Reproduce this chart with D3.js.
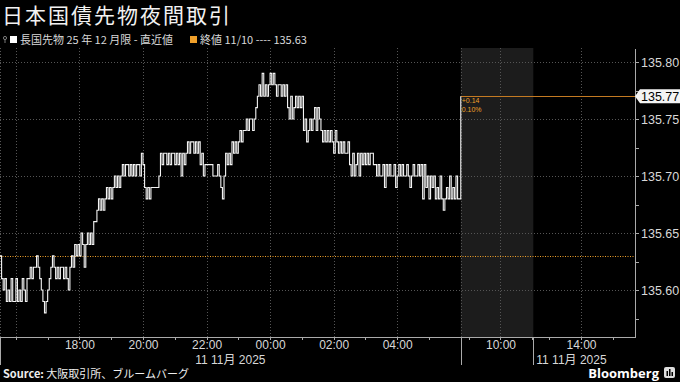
<!DOCTYPE html>
<html>
<head>
<meta charset="utf-8">
<script src="https://cdn.jsdelivr.net/npm/d3@7"></script>
<style>
body { margin: 0; background: #000; }
svg { display: block; font-family: "Liberation Sans", "Noto Sans CJK JP", sans-serif; }
.axis path, .axis line { stroke: #aaa; shape-rendering: crispEdges; }
.axis text { fill: #d8d8d8; font-size: 12px; font-family: "Liberation Sans", "Noto Sans CJK JP", sans-serif; }
.grid { stroke: #555; stroke-dasharray: 1,2; shape-rendering: crispEdges; }
</style>
</head>
<body>
<svg id="chart" width="680" height="382"></svg>
<script>
// 長国先物 25年12月限, night session, 3 minute steps from 15:30 on 11/10
var nightStart = '2025-11-10T15:30';
var nightPrices = [
  135.63,135.61,135.60,135.61,135.59,135.60,135.59,135.61,135.59,135.59,
  135.61,135.59,135.60,135.59,135.61,135.60,135.59,135.61,135.61,135.62,
  135.61,135.62,135.62,135.63,135.62,135.61,135.60,135.59,135.58,135.59,
  135.60,135.61,135.62,135.63,135.62,135.61,135.62,135.61,135.62,135.62,
  135.61,135.62,135.61,135.60,135.62,135.63,135.62,135.64,135.63,135.64,
  135.63,135.65,135.64,135.62,135.64,135.65,135.64,135.65,135.64,135.66,
  135.66,135.67,135.68,135.67,135.68,135.67,135.68,135.69,135.68,135.69,
  135.68,135.69,135.70,135.69,135.70,135.69,135.70,135.71,135.70,135.71,
  135.71,135.70,135.71,135.70,135.71,135.70,135.71,135.71,135.70,135.72,
  135.71,135.69,135.68,135.69,135.68,135.69,135.69,135.69,135.69,135.69,
  135.70,135.72,135.71,135.72,135.72,135.71,135.72,135.71,135.72,135.72,
  135.71,135.72,135.71,135.72,135.70,135.72,135.71,135.72,135.73,135.72,
  135.73,135.73,135.72,135.73,135.72,135.73,135.71,135.72,135.70,135.71,
  135.71,135.71,135.71,135.71,135.70,135.70,135.70,135.71,135.70,135.69,
  135.68,135.70,135.72,135.71,135.72,135.71,135.73,135.72,135.73,135.72,
  135.73,135.74,135.73,135.74,135.74,135.75,135.74,135.75,135.75,135.74,
  135.75,135.76,135.77,135.78,135.77,135.79,135.77,135.78,135.77,135.78,
  135.79,135.78,135.79,135.78,135.77,135.78,135.78,135.77,135.78,135.77,
  135.78,135.76,135.75,135.77,135.75,135.76,135.77,135.76,135.77,135.76,
  135.77,135.74,135.75,135.73,135.74,135.75,135.74,135.75,135.76,135.74,
  135.76,135.75,135.74,135.73,135.74,135.73,135.74,135.73,135.74,135.73,
  135.72,135.74,135.73,135.72,135.73,135.72,135.73,135.72,135.72,135.73,
  135.71,135.70,135.72,135.70,135.71,135.72,135.70,135.72,135.71,135.72,
  135.71,135.72,135.71,135.72,135.72,135.71,135.71,135.70,135.71,135.70,
  135.70,135.71,135.69,135.71,135.70,135.71,135.70,135.70,135.71,135.69,
  135.70,135.71,135.70,135.71,135.70,135.70,135.71,135.70,135.69,135.70,
  135.71,135.70,135.70,135.71,135.70,135.71,135.68,135.71,135.69,135.70,
  135.68,135.70,135.69,135.70,135.68,135.69,135.68,135.70,135.68,135.67,
  135.68,135.69,135.68,135.70,135.68,135.69,135.68,135.70,135.68
];
// day session so far
var dayTimes = ['2025-11-11T08:45'];
var dayPrices = [135.77];

var prevClose = 135.63;
var lastPrice = 135.77;
var change = '+0.14';
var changePct = '0.10%';

// trading sessions, breaks between them are squeezed out of the axis
var sessions = [
  ['2025-11-10T15:30', '2025-11-11T06:00'],
  ['2025-11-11T08:45', '2025-11-11T11:02'],
  ['2025-11-11T12:30', '2025-11-11T15:42']
];
var shadeSession = ['2025-11-11T08:45', '2025-11-11T11:02'];

var yDomain = [135.5588, 135.8123];
var yTicks = [135.60, 135.65, 135.70, 135.75, 135.80];
var yMinorTicks = [135.575, 135.625, 135.675, 135.725, 135.775];

var xLabelTimes = ['2025-11-10T18:00', '2025-11-10T20:00', '2025-11-10T22:00', '2025-11-11T00:00',
                   '2025-11-11T02:00', '2025-11-11T04:00', '2025-11-11T10:00', '2025-11-11T14:00'];
var gridTimes = ['2025-11-10T15:30', '2025-11-10T16:00', '2025-11-10T18:00', '2025-11-10T20:00',
                 '2025-11-10T22:00', '2025-11-11T00:00', '2025-11-11T02:00', '2025-11-11T04:00',
                 '2025-11-11T08:45', '2025-11-11T10:00', '2025-11-11T14:00'];
var dateLabels = [{text: '11 11月 2025', from: '2025-11-10T15:30', to: '2025-11-11T06:00', anchor: 'middle'},
                  {text: '11 11月 2025', from: '2025-11-11T12:30', to: '2025-11-11T15:42', anchor: 'start'}];

var title = '日本国債先物夜間取引';
var legendSeries = '長国先物 25 年 12 月限 - 直近値';
var legendClose = '終値 11/10 ---- 135.63';

var parse = d3.timeParse('%Y-%m-%dT%H:%M');
var plot = {left: 0, right: 635, top: 48, bottom: 337};
var svg = d3.select('#chart');
var orange = '#f0a02a';

// piecewise time scale across sessions
var sess = sessions.map(function(s){ return s.map(parse); });
var hrs = sess.map(function(s){ return (s[1] - s[0]) / 36e5; });
var k = (plot.right - plot.left) / d3.sum(hrs);
var dom = [], rng = [], acc = 0;
sess.forEach(function(s, i){
	dom.push(s[0], s[1]);
	rng.push(plot.left + acc * k, plot.left + (acc + hrs[i]) * k);
	acc += hrs[i];
});
var x = d3.scaleTime().domain(dom).range(rng);
var y = d3.scaleLinear().domain(yDomain).range([plot.bottom, plot.top]);

var data = nightPrices.map(function(p, i){
	return {t: d3.timeMinute.offset(parse(nightStart), i * 3), v: p};
});
dayPrices.forEach(function(p, i){ data.push({t: parse(dayTimes[i]), v: p}); });

// shaded session
svg.append('rect')
	.attr('x', x(parse(shadeSession[0])))
	.attr('y', plot.top)
	.attr('width', x(parse(shadeSession[1])) - x(parse(shadeSession[0])))
	.attr('height', plot.bottom - plot.top)
	.attr('fill', '#1c1c1c');

// grid
svg.selectAll('.hgrid').data(yTicks).enter().append('line')
	.attr('class', 'grid')
	.attr('x1', plot.left).attr('x2', plot.right)
	.attr('y1', function(d){ return Math.round(y(d)) + 0.5; })
	.attr('y2', function(d){ return Math.round(y(d)) + 0.5; });
svg.selectAll('.vgrid').data(gridTimes).enter().append('line')
	.attr('class', 'grid')
	.attr('x1', function(d){ return Math.round(x(parse(d))) + 0.5; })
	.attr('x2', function(d){ return Math.round(x(parse(d))) + 0.5; })
	.attr('y1', plot.top).attr('y2', plot.bottom);

// previous close
svg.append('line')
	.attr('x1', plot.left).attr('x2', plot.right)
	.attr('y1', Math.round(y(prevClose)) + 0.5).attr('y2', Math.round(y(prevClose)) + 0.5)
	.attr('stroke', orange).attr('stroke-dasharray', '1,1.5').attr('stroke-width', 1);

// last price line
svg.append('line')
	.attr('x1', x(parse(dayTimes[0]))).attr('x2', plot.right)
	.attr('y1', Math.round(y(lastPrice)) + 0.5).attr('y2', Math.round(y(lastPrice)) + 0.5)
	.attr('stroke', '#c47a22').attr('stroke-width', 1);

// price series
svg.append('path')
	.datum(data)
	.attr('d', d3.line().curve(d3.curveStepAfter)
		.x(function(d){ return x(d.t); }).y(function(d){ return y(d.v); }))
	.attr('fill', 'none')
	.attr('stroke', '#f4f4f4')
	.attr('stroke-width', 1.1);

// change annotation
svg.append('text').attr('x', x(parse(dayTimes[0])) + 1).attr('y', y(lastPrice) + 7)
	.attr('fill', orange).attr('font-size', 7).text(change);
svg.append('text').attr('x', x(parse(dayTimes[0])) + 1).attr('y', y(lastPrice) + 15.5)
	.attr('fill', orange).attr('font-size', 7).text(changePct);

// x axis
var hourTicks = [];
sess.forEach(function(s){ hourTicks = hourTicks.concat(d3.timeHour.range(d3.timeHour.ceil(s[0]), s[1])); });
svg.append('g').attr('class', 'axis')
	.attr('transform', 'translate(0,' + plot.bottom + ')')
	.call(d3.axisBottom(x).tickValues(hourTicks).tickSize(3).tickSizeOuter(0).tickFormat(''));
svg.append('g').attr('class', 'axis')
	.attr('transform', 'translate(0,' + plot.bottom + ')')
	.call(d3.axisBottom(x).tickValues(xLabelTimes.map(parse)).tickSize(0).tickPadding(3)
		.tickFormat(d3.timeFormat('%H:%M')))
	.call(function(g){ g.select('.domain').remove(); });

// session start markers
svg.selectAll('.sessTick').data(sess).enter().append('line')
	.attr('x1', function(d){ return Math.round(x(d[0])) + 0.5; })
	.attr('x2', function(d){ return Math.round(x(d[0])) + 0.5; })
	.attr('y1', plot.bottom).attr('y2', plot.bottom + 28)
	.attr('stroke', '#aaa');

svg.selectAll('.dateLabel').data(dateLabels).enter().append('text')
	.attr('x', function(d){
		return d.anchor == 'middle' ? (x(parse(d.from)) + x(parse(d.to))) / 2 : x(parse(d.from)) + 3;
	})
	.attr('y', plot.bottom + 27)
	.attr('text-anchor', function(d){ return d.anchor; })
	.attr('fill', '#d8d8d8').attr('font-size', 12)
	.text(function(d){ return d.text; });

// y axis
svg.append('g').attr('class', 'axis')
	.attr('transform', 'translate(' + plot.right + ',0)')
	.call(d3.axisRight(y).tickValues(yMinorTicks).tickSize(4).tickSizeOuter(0).tickFormat(''));
svg.append('g').attr('class', 'axis')
	.attr('transform', 'translate(' + plot.right + ',0)')
	.call(d3.axisRight(y).tickValues(yTicks).tickSize(4).tickPadding(2).tickFormat(d3.format('.2f')))
	.call(function(g){ g.select('.domain').remove(); g.selectAll('text').attr('font-size', 12.5).style('font-size', '12.5px'); });

// last price tag
var ly = y(lastPrice);
svg.append('path')
	.attr('d', 'M' + plot.right + ',' + ly + 'L' + (plot.right + 5) + ',' + (ly - 7) + 'H680V' + (ly + 7) + 'H' + (plot.right + 5) + 'Z')
	.attr('fill', '#f4f4f4');
svg.append('text').attr('x', plot.right + 6).attr('y', ly + 4.5)
	.attr('fill', '#000').attr('font-size', 12.5).text(d3.format('.2f')(lastPrice));

// title + legend
svg.append('text').attr('x', 2).attr('y', 23)
	.attr('fill', '#f2f2f2').attr('font-size', 21).attr('letter-spacing', 2)
	.attr('font-family', '"Noto Sans CJK JP", sans-serif')
	.text(title);

var lg = svg.append('g').attr('transform', 'translate(0,40)');
lg.append('circle').attr('cx', 5).attr('cy', -2).attr('r', 1.6).attr('fill', 'none').attr('stroke', '#999').attr('stroke-width', 0.8);
lg.append('line').attr('x1', 5).attr('x2', 5).attr('y1', -0.5).attr('y2', 3).attr('stroke', '#999').attr('stroke-width', 0.8);
lg.append('rect').attr('x', 10).attr('y', -4).attr('width', 7).attr('height', 7).attr('fill', '#fff');
lg.append('text').attr('x', 20).attr('y', 3.5).attr('fill', '#d8d8d8').attr('font-size', 11)
	.attr('font-family', '"Noto Sans CJK JP", sans-serif').text(legendSeries);
lg.append('rect').attr('x', 190).attr('y', -4).attr('width', 7).attr('height', 7).attr('fill', orange);
lg.append('text').attr('x', 200).attr('y', 3.5).attr('fill', '#d8d8d8').attr('font-size', 11)
	.attr('font-family', '"Noto Sans CJK JP", sans-serif').text(legendClose);

// footer
var src = svg.append('text').attr('x', 3).attr('y', 378).attr('fill', '#eee').attr('font-size', 11)
	.attr('font-family', '"Noto Sans CJK JP", sans-serif');
src.append('tspan').attr('font-weight', 'bold').text('Source: ');
src.append('tspan').text('大阪取引所、ブルームバーグ');

svg.append('text').attr('x', 659).attr('y', 378).attr('text-anchor', 'end')
	.attr('fill', '#fff').attr('font-size', 13).attr('font-weight', 'bold')
	.attr('font-family', '"Open Sans", sans-serif').text('Bloomberg');
svg.append('rect').attr('x', 664).attr('y', 367).attr('width', 11).attr('height', 11).attr('rx', 2).attr('fill', '#ddd');
svg.append('rect').attr('x', 666.5).attr('y', 371).attr('width', 1.5).attr('height', 5).attr('fill', '#000');
svg.append('rect').attr('x', 669).attr('y', 369).attr('width', 1.5).attr('height', 7).attr('fill', '#000');
svg.append('rect').attr('x', 671.5).attr('y', 372).attr('width', 1.5).attr('height', 4).attr('fill', '#000');
</script>
</body>
</html>
